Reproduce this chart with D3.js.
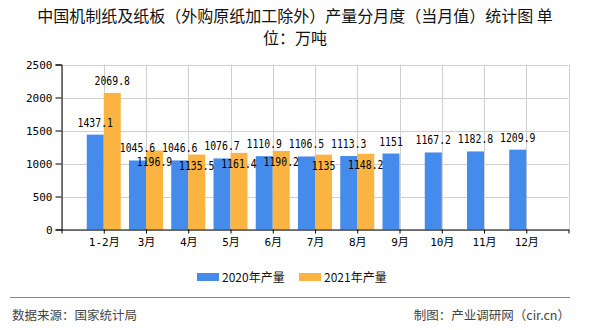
<!DOCTYPE html>
<html>
<head>
<meta charset="utf-8">
<script src="https://cdn.jsdelivr.net/npm/d3@7/dist/d3.min.js"></script>
<style>
  html, body { margin: 0; padding: 0; background: #fff; }
  svg { display: block; }
</style>
</head>
<body>
<svg id="chart" width="590" height="330"></svg>
<script>
// Monthly output of machine-made paper and paperboard (10k tonnes)
const months = ["1-2月", "3月", "4月", "5月", "6月", "7月", "8月", "9月", "10月", "11月", "12月"];
const output2020 = [1437.1, 1045.6, 1046.6, 1076.7, 1110.9, 1106.5, 1113.3, 1151, 1167.2, 1182.8, 1209.9];
const output2021 = [2069.8, 1196.9, 1135.5, 1161.4, 1190.2, 1135, 1148.2, null, null, null, null];
const seriesNames = ["2020年产量", "2021年产量"];
const seriesColors = ["#448bec", "#fbb442"];
const yTicks = [0, 500, 1000, 1500, 2000, 2500];

const svg = d3.select("#chart");
const cjk = "'Noto Sans CJK SC', 'Noto Sans', sans-serif";
const mono = "'DejaVu Sans Mono', 'Noto Sans CJK SC', monospace";

const plotLeft = 61.5, plotRight = 568.5, plotTop = 64.5, plotBottom = 229.5;

// Slots: an empty slot before the first month so that bars sit on gridlines
const slots = ["", ...months, " "];
const x = d3.scalePoint().domain(slots).range([plotLeft, plotRight]);
const y = d3.scaleLinear().domain([0, 2500]).range([plotBottom, plotTop]);
const barW = 17;

// Title (two lines)
const title = svg.append("g").attr("font-family", cjk).attr("font-size", 16).attr("fill", "#111")
  .attr("text-anchor", "middle");
title.append("text").attr("x", 295).attr("y", 22).text("中国机制纸及纸板（外购原纸加工除外）产量分月度（当月值）统计图 单");
title.append("text").attr("x", 295).attr("y", 44).text("位：万吨");

// Gridlines
const grid = svg.append("g").attr("stroke", "#d0d0d0").attr("stroke-width", 1);
yTicks.forEach(t => {
  grid.append("line").attr("x1", plotLeft).attr("x2", plotRight)
    .attr("y1", Math.round(y(t)) + 0.5).attr("y2", Math.round(y(t)) + 0.5);
});
slots.forEach(s => {
  const px = Math.round(x(s)) + 0.5;
  grid.append("line").attr("x1", px).attr("x2", px).attr("y1", plotTop).attr("y2", plotBottom);
});

// Bars
const bars = svg.append("g");
months.forEach((m, i) => {
  const cx = x(m);
  const v1 = output2020[i], v2 = output2021[i];
  bars.append("rect").attr("x", cx - barW).attr("width", barW)
    .attr("y", y(v1)).attr("height", y(0) - y(v1)).attr("fill", seriesColors[0]);
  if (v2 != null) {
    bars.append("rect").attr("x", cx).attr("width", barW)
      .attr("y", y(v2)).attr("height", y(0) - y(v2)).attr("fill", seriesColors[1]);
  }
});

// Axes
const yAxis = d3.axisLeft(y).tickValues(yTicks).tickSize(6).tickPadding(3).tickFormat(d3.format("d"));
const yg = svg.append("g").attr("transform", `translate(${plotLeft},0)`).call(yAxis);
yg.select(".domain").attr("stroke", "#000");
yg.selectAll(".tick line").attr("stroke", "#000");
yg.selectAll("text").attr("font-family", mono).attr("font-size", 11).attr("fill", "#000");

const xAxis = d3.axisBottom(x).tickSize(4).tickSizeOuter(0).tickPadding(5);
const xg = svg.append("g").attr("transform", `translate(0,${plotBottom})`).call(xAxis);
xg.select(".domain").attr("stroke", "#000");
xg.selectAll(".tick line").attr("stroke", "#000");
xg.selectAll("text").attr("font-family", mono).attr("font-size", 11).attr("fill", "#000");

// Value labels
const labels = svg.append("g").attr("font-family", mono).attr("font-size", 12).attr("fill", "#000")
  .attr("text-anchor", "middle");
function addLabel(px, py, v) {
  const s = String(v);
  labels.append("text").attr("x", px).attr("y", py)
    .attr("textLength", s.length * 5.9).attr("lengthAdjust", "spacingAndGlyphs").text(s);
}
months.forEach((m, i) => {
  const cx = x(m);
  const v1 = output2020[i], v2 = output2021[i];
  addLabel(cx - barW / 2, y(v1) - 8, v1);
  if (v2 != null) {
    // Drop the label under the bar top when it would collide with its neighbour
    const close = Math.abs(y(v2) - y(v1)) < 20;
    addLabel(cx + barW / 2, close ? y(v2) + 15 : y(v2) - 8, v2);
  }
});

// Legend
const legend = svg.append("g").attr("font-family", cjk).attr("font-size", 12).attr("fill", "#111");
const legendX = [197, 299];
seriesNames.forEach((n, i) => {
  legend.append("rect").attr("x", legendX[i]).attr("y", 273).attr("width", 22).attr("height", 8)
    .attr("fill", seriesColors[i]);
  legend.append("text").attr("x", legendX[i] + 25).attr("y", 281.5).text(n);
});

// Footer
svg.append("line").attr("x1", 10).attr("x2", 570).attr("y1", 297.5).attr("y2", 297.5)
  .attr("stroke", "#888").attr("stroke-width", 1);
svg.append("text").attr("x", 12).attr("y", 320).attr("font-family", cjk).attr("font-size", 12.5)
  .attr("fill", "#444").text("数据来源：国家统计局");
svg.append("text").attr("x", 570).attr("y", 320).attr("font-family", cjk).attr("font-size", 12.5)
  .attr("fill", "#444").attr("text-anchor", "end").text("制图：产业调研网（cir.cn）");
</script>
</body>
</html>
